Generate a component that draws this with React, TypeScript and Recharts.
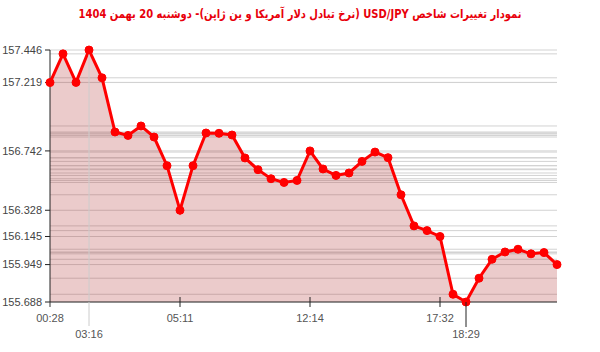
import React from "react";
import {
  ComposedChart,
  Area,
  XAxis,
  YAxis,
  CartesianGrid,
  ReferenceLine,
} from "recharts";

const TITLE =
  "نمودار تغییرات شاخص USD/JPY (نرخ تبادل دلار آمریکا و ین ژاپن)-  دوشنبه  20 بهمن 1404";

// one value per sample, left to right
const prices = [
  157.219, 157.419, 157.22, 157.446, 157.252, 156.874, 156.85, 156.916, 156.839, 156.639,
  156.328, 156.639, 156.867, 156.865, 156.853, 156.693, 156.611, 156.548, 156.522, 156.536,
  156.742, 156.616, 156.571, 156.588, 156.669, 156.734, 156.695, 156.436, 156.219, 156.186,
  156.145, 155.742, 155.688, 155.854, 155.986, 156.037, 156.056, 156.024, 156.033, 155.949,
];

const timeTickIndex = [0, 3, 10, 20, 30, 32];
const timeTickLabels = ["00:28", "03:16", "05:11", "12:14", "17:32", "18:29"];
const priceTicks = [157.446, 157.219, 156.742, 156.328, 156.145, 155.949, 155.688];

const MIN = 155.688;
const MAX = 157.446;
const MAX_INDEX = 3;

const data = prices.map((p, i) => ({ i, price: p }));

function TimeTick(props: any) {
  const { x, y, payload } = props;
  const k = timeTickIndex.indexOf(payload.value);
  const label = timeTickLabels[k] ?? "";
  const lower = k === 1 || k === 5;
  let line = null;
  if (k === 0) line = <line x1={x} x2={x} y1={y} y2={y + 5} stroke="#333" />;
  else if (k === 1) line = <line x1={x} x2={x} y1={y} y2={y + 24} stroke="#ccc" />;
  else if (k === 5) line = <line x1={x} x2={x} y1={y} y2={y + 25} stroke="#222" />;
  else line = <line x1={x} x2={x} y1={y - 5} y2={y + 5} stroke="#222" />;
  return (
    <g>
      {line}
      <text
        x={x}
        y={y + (lower ? 36 : 20)}
        textAnchor="middle"
        fill="#555"
        fontSize={11}
        fontFamily="Liberation Sans, Arial, sans-serif"
      >
        {label}
      </text>
    </g>
  );
}

export default function App() {
  return (
    <div
      style={{
        position: "absolute",
        left: 0,
        top: 0,
        width: 600,
        height: 352,
        background: "#fff",
      }}
    >
      <div
        style={{
          position: "absolute",
          top: 7,
          left: 0,
          width: 600,
          textAlign: "center",
          direction: "rtl",
          color: "#e8000b",
          fontWeight: "bold",
          fontSize: 12,
          fontFamily: "DejaVu Sans, sans-serif",
          transform: "scaleX(0.83)",
          whiteSpace: "nowrap",
        }}
      >
        {TITLE}
      </div>
      <ComposedChart
        width={600}
        height={352}
        data={data}
        margin={{ top: 50, right: 43, bottom: 0, left: 0 }}
      >
        <CartesianGrid
          vertical={false}
          horizontalValues={prices}
          stroke="#d2d2d2"
        />
        <XAxis
          dataKey="i"
          type="number"
          domain={[0, prices.length - 1]}
          ticks={timeTickIndex}
          interval={0}
          height={50}
          tickSize={0}
          tickMargin={0}
          tickLine={false}
          axisLine={{ stroke: "#333" }}
          tick={<TimeTick />}
        />
        <YAxis
          type="number"
          domain={[MIN, MAX]}
          ticks={priceTicks}
          interval={0}
          width={50}
          tickSize={5}
          tickMargin={3}
          axisLine={{ stroke: "#222" }}
          tickLine={{ stroke: "#222" }}
          tick={{ fill: "#444", fontSize: 11, fontFamily: "Liberation Sans, Arial, sans-serif" }}
          tickFormatter={(v: number) => v.toFixed(3)}
        />
        <ReferenceLine x={MAX_INDEX} stroke="#ccc" />
        <Area
          type="linear"
          dataKey="price"
          baseValue={MIN}
          stroke="#f00"
          strokeWidth={3}
          fill="#b03030"
          fillOpacity={0.25}
          dot={{ r: 4, fill: "#f00", fillOpacity: 1, stroke: "#f00", strokeWidth: 1 }}
          activeDot={false}
          isAnimationActive={false}
        />
      </ComposedChart>
    </div>
  );
}
